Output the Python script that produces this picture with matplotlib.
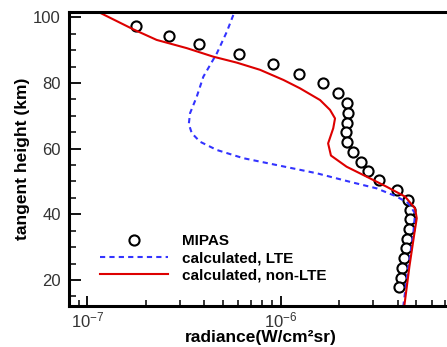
import numpy as np
import matplotlib
matplotlib.use("Agg")
import matplotlib.pyplot as plt
from matplotlib.ticker import FixedLocator, NullFormatter, LogLocator

plt.rcParams["font.family"] = ["Liberation Sans", "DejaVu Sans"]
plt.rcParams["mathtext.fontset"] = "custom"
plt.rcParams["mathtext.rm"] = "Liberation Sans"
plt.rcParams["mathtext.it"] = "Liberation Sans:italic"
plt.rcParams["mathtext.bf"] = "Liberation Sans:bold"

# MIPAS measurements
mipas_h = [97.4, 94.4, 91.8, 88.7, 85.7, 82.6, 79.9, 76.9, 73.8, 70.8, 67.7, 65.2, 62.1, 59.1,
           56.0, 53.3, 50.5, 47.4, 44.4, 41.3, 38.5, 35.4, 32.4, 29.7, 26.6, 23.6, 20.7, 18.0]
mipas_rad = [1.78e-7, 2.65e-7, 3.79e-7, 6.09e-7, 9.06e-7, 1.24e-6, 1.65e-6, 1.96e-6, 2.18e-6,
             2.23e-6, 2.18e-6, 2.16e-6, 2.18e-6, 2.36e-6, 2.59e-6, 2.82e-6, 3.22e-6, 3.96e-6,
             4.54e-6, 4.63e-6, 4.66e-6, 4.58e-6, 4.49e-6, 4.40e-6, 4.33e-6, 4.22e-6, 4.17e-6, 4.08e-6]

# calculated, LTE
lte_h = [100.7, 95.6, 89.0, 81.9, 75.8, 70.8, 67.5, 64.7, 62.1, 59.6, 57.1, 54.8, 52.5, 49.9,
         47.9, 45.4, 43.4, 40.3, 34.2, 24.1, 12.1]
lte_rad = [5.67e-7, 5.25e-7, 4.66e-7, 3.97e-7, 3.67e-7, 3.39e-7, 3.34e-7, 3.46e-7, 3.82e-7,
           4.66e-7, 6.38e-7, 9.88e-7, 1.53e-6, 2.27e-6, 3.12e-6, 3.96e-6, 4.54e-6, 4.92e-6,
           4.82e-6, 4.54e-6, 4.28e-6]

# calculated, non-LTE
nlte_h = [101.5, 96.3, 93.1, 90.6, 88.0, 86.2, 84.0, 80.9, 78.4, 74.8, 71.8, 69.2, 66.2, 61.6,
          57.9, 54.5, 51.5, 48.4, 45.4, 41.8, 38.8, 34.2, 24.1, 12.1]
nlte_rad = [1.15e-7, 1.73e-7, 2.28e-7, 3.26e-7, 4.47e-7, 5.90e-7, 7.79e-7, 1.03e-6, 1.25e-6,
            1.59e-6, 1.79e-6, 1.90e-6, 1.86e-6, 1.75e-6, 1.81e-6, 2.18e-6, 2.76e-6, 3.51e-6,
            4.37e-6, 4.92e-6, 5.02e-6, 4.88e-6, 4.60e-6, 4.33e-6]

x_major = [1e-7, 1e-6]
y_major = [20, 40, 60, 80, 100]

fig = plt.figure(figsize=(4.47, 3.47), dpi=100)
ax = fig.add_axes([0.1544, 0.1182, 0.9076, 0.8472])

ax.plot(mipas_rad, mipas_h, linestyle="none", marker="o", markersize=7.3,
        markerfacecolor="white", markeredgecolor="black", markeredgewidth=1.5, label="MIPAS")
ax.plot(lte_rad, lte_h, color="#3333ff", linestyle=(0, (2.5, 2)), linewidth=1.5,
        label="calculated, LTE")
ax.plot(nlte_rad, nlte_h, color="#dd0000", linewidth=1.5, label="calculated, non-LTE")

ax.set_xscale("log")
ax.set_xlim(8.04e-8, 1e-5)
ax.set_ylim(12.1, 101.6)

ax.yaxis.set_major_locator(FixedLocator(y_major))
ax.yaxis.set_minor_locator(FixedLocator(np.arange(15, 101, 5)))
ax.xaxis.set_major_locator(FixedLocator(x_major))
ax.xaxis.set_minor_locator(LogLocator(base=10, subs=np.arange(2, 10)))
ax.xaxis.set_minor_formatter(NullFormatter())

ax.tick_params(axis="both", which="both", direction="in", color="black", labelcolor="#333333",
               labelsize=12, top=False, right=False)
ax.tick_params(axis="y", which="major", length=8.5, width=1.3, pad=6)
ax.tick_params(axis="y", which="minor", length=5, width=1.1)
ax.tick_params(axis="x", which="major", length=7.5, width=1.3, pad=3)
ax.tick_params(axis="x", which="minor", length=4.3, width=1.1)

for s in ax.spines.values():
    s.set_linewidth(2.2)

ax.set_xlabel("radiance(W/cm²sr)", fontsize=12.5, fontweight="bold")
ax.set_ylabel("tangent height (km)", fontsize=12.5, fontweight="bold")
ax.xaxis.set_label_coords(0.473, -0.08)
ax.yaxis.set_label_coords(-0.096, 0.5)

leg = ax.legend(loc="center left", bbox_to_anchor=(0.076, 0.163), frameon=False,
                prop={"weight": "bold", "size": 11}, handlelength=4.45, handletextpad=0.9,
                labelspacing=0.2, borderpad=0, borderaxespad=0, numpoints=1)

fig.savefig("out.png", dpi=100)
